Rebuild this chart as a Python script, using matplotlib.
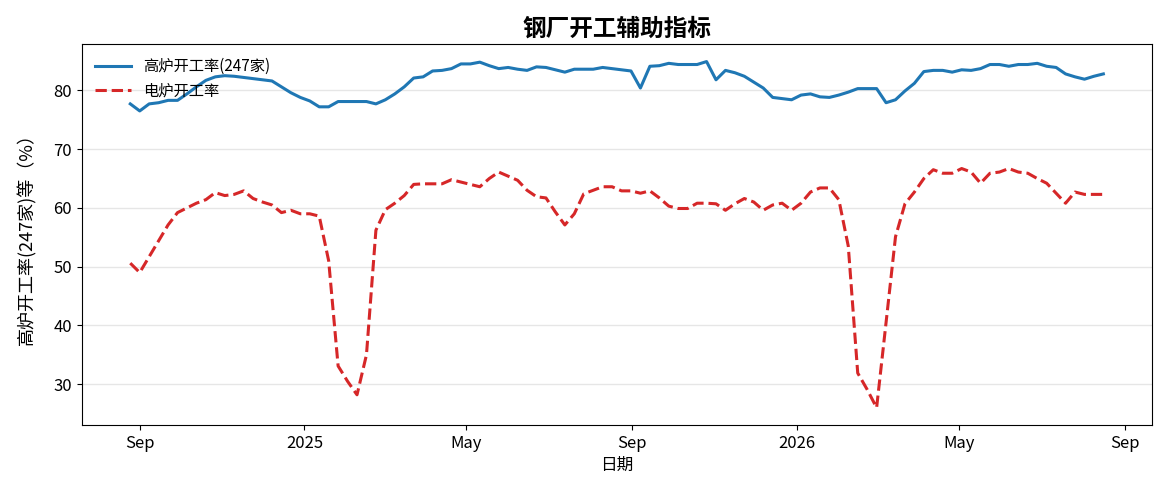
import matplotlib
matplotlib.use('Agg')
import matplotlib.pyplot as plt
import matplotlib.dates as mdates
import pandas as pd

plt.rcParams['font.family'] = ['Noto Sans CJK SC', 'DejaVu Sans']
plt.rcParams['axes.unicode_minus'] = False

# weekly data, Aug 2024 - Aug 2026
start_date = '2024-08-25'
n_weeks = 104

bf_rate = [77.7, 76.5, 77.7, 77.9, 78.3, 78.3, 79.4, 80.6, 81.7, 82.3,
           82.5, 82.4, 82.2, 82.0, 81.8, 81.6, 80.6, 79.6, 78.8, 78.2,
           77.2, 77.2, 78.1, 78.1, 78.1, 78.1, 77.7, 78.4, 79.4, 80.6,
           82.1, 82.3, 83.3, 83.4, 83.7, 84.5, 84.5, 84.8, 84.2, 83.7,
           83.9, 83.6, 83.4, 84.0, 83.9, 83.5, 83.1, 83.6, 83.6, 83.6,
           83.9, 83.7, 83.5, 83.3, 80.4, 84.1, 84.2, 84.6, 84.4, 84.4,
           84.4, 84.9, 81.8, 83.4, 83.0, 82.4, 81.4, 80.4, 78.8, 78.6,
           78.4, 79.2, 79.4, 78.9, 78.8, 79.2, 79.7, 80.3, 80.3, 80.3,
           77.9, 78.4, 79.9, 81.2, 83.2, 83.4, 83.4, 83.1, 83.5, 83.4,
           83.7, 84.4, 84.4, 84.1, 84.4, 84.4, 84.6, 84.1, 83.9, 82.8,
           82.3, 81.9, 82.4, 82.8]

eaf_rate = [50.6, 49.0, 51.7, 54.4, 57.1, 59.2, 60.0, 60.8, 61.4, 62.6,
            62.1, 62.3, 62.9, 61.6, 61.0, 60.5, 59.2, 59.6, 59.0, 59.0,
            58.6, 51.0, 33.1, 30.5, 28.2, 35.0, 56.2, 59.7, 60.8, 62.1,
            64.0, 64.1, 64.1, 64.1, 64.8, 64.4, 64.0, 63.6, 65.0, 66.1,
            65.4, 64.7, 63.0, 61.9, 61.7, 59.3, 57.1, 59.0, 62.4, 63.0,
            63.6, 63.6, 62.9, 62.9, 62.5, 62.9, 61.7, 60.3, 59.9, 59.9,
            60.8, 60.8, 60.7, 59.6, 60.7, 61.6, 61.0, 59.6, 60.5, 60.8,
            59.6, 60.8, 62.7, 63.4, 63.4, 61.4, 53.5, 31.9, 29.1, 26.0,
            40.5, 55.1, 60.7, 62.7, 65.0, 66.5, 65.9, 65.9, 66.7, 66.1,
            64.2, 65.9, 66.1, 66.7, 66.1, 65.9, 65.0, 64.2, 62.5, 60.8,
            62.7, 62.3, 62.3, 62.3]

dates = pd.date_range(start_date, periods=n_weeks, freq='7D')

fig, ax = plt.subplots(figsize=(11.66, 5.03), dpi=100)
ax.plot(dates, bf_rate, color='#1f77b4', lw=2.2, label='高炉开工率(247家)')
ax.plot(dates, eaf_rate, color='#d62728', lw=2.2, ls='--', label='电炉开工率')

ax.xaxis.set_major_locator(mdates.MonthLocator(bymonth=[1, 5, 9]))


def fmt_date(x, pos=None):
    d = mdates.num2date(x)
    return str(d.year) if d.month == 1 else d.strftime('%b')


ax.xaxis.set_major_formatter(plt.FuncFormatter(fmt_date))
ax.tick_params(labelsize=12)
ax.grid(axis='y', color='#e6e6e6', lw=1)
ax.set_axisbelow(True)

ax.set_title('钢厂开工辅助指标', fontsize=17, fontweight='bold')
ax.set_xlabel('日期', fontsize=12)
ax.set_ylabel('高炉开工率(247家)等（%）', fontsize=13, labelpad=12)
ax.legend(loc='upper left', frameon=False, fontsize=11, handlelength=2.3)

plt.subplots_adjust(left=0.07, right=0.988, top=0.912, bottom=0.155)
plt.savefig('out.png', dpi=100)
